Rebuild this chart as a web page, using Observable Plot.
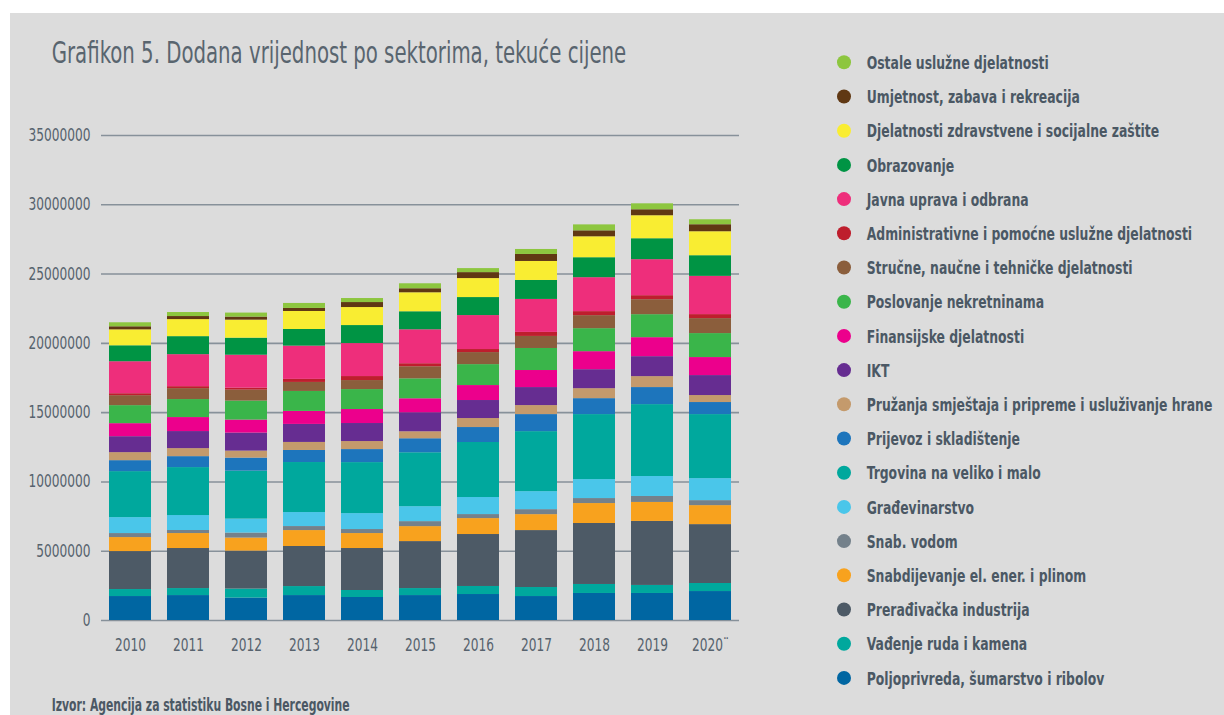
<!DOCTYPE html>
<html>
<head>
<meta charset="utf-8">
<script src="https://cdn.jsdelivr.net/npm/d3@7"></script>
<script src="https://cdn.jsdelivr.net/npm/@observablehq/plot@0.6"></script>
<style>
  html, body { margin: 0; padding: 0; background: #ffffff; }
  #wrap { position: relative; width: 1224px; height: 715px; overflow: hidden; }
  #bg { position: absolute; left: 10px; top: 13px; right: 0; bottom: 0; background: #dcdcdc; }
  #chart { position: absolute; left: 0; top: 0; }
  #overlay { position: absolute; left: 0; top: 0; pointer-events: none; }
</style>
</head>
<body>
<div id="wrap">
  <div id="bg"></div>
  <div id="chart"></div>
  <svg id="overlay" width="1224" height="715"></svg>
</div>
<script>
// ---- data ----
const years = ["2010","2011","2012","2013","2014","2015","2016","2017","2018","2019","2020"];

// sectors from bottom of the stack to top
const sectors = [
  "Poljoprivreda, šumarstvo i ribolov",
  "Vađenje ruda i kamena",
  "Prerađivačka industrija",
  "Snabdijevanje el. ener. i plinom",
  "Snab. vodom",
  "Građevinarstvo",
  "Trgovina na veliko i malo",
  "Prijevoz i skladištenje",
  "Pružanja smještaja i pripreme i usluživanje hrane",
  "IKT",
  "Finansijske djelatnosti",
  "Poslovanje nekretninama",
  "Stručne, naučne i tehničke djelatnosti",
  "Administrativne i pomoćne uslužne djelatnosti",
  "Javna uprava i odbrana",
  "Obrazovanje",
  "Djelatnosti zdravstvene i socijalne zaštite",
  "Umjetnost, zabava i rekreacija",
  "Ostale uslužne djelatnosti"
];

const sectorColors = [
  "#0066a2", "#00a89d", "#4d5a66", "#f8a21e", "#74818b", "#4ac6ea",
  "#00a89d", "#1d75bc", "#c49a6c", "#662d91", "#ec008c", "#3ab54a",
  "#8b5e3c", "#be1e2d", "#ee2e7b", "#009444", "#f9ed32", "#603813", "#8dc63f"
];

const poljoprivreda   = [1730000,1800000,1620000,1800000,1660000,1800000,1875000,1730000,1950000,1950000,2090000];
const vadjenje        = [ 505000, 505000, 650000, 650000, 505000, 505000, 580000, 650000, 650000, 580000, 580000];
const preradjivacka   = [2740000,2890000,2740000,2890000,3030000,3390000,3750000,4110000,4400000,4620000,4250000];
const elEnergija      = [1010000,1080000, 940000,1150000,1080000,1080000,1150000,1150000,1440000,1370000,1370000];
const voda            = [ 290000, 220000, 360000, 290000, 290000, 360000, 290000, 360000, 360000, 430000, 360000];
const gradjevinarstvo = [1150000,1080000,1010000,1010000,1150000,1080000,1230000,1300000,1370000,1440000,1590000];
const trgovina        = [3320000,3460000,3460000,3610000,3680000,3890000,3970000,4330000,4690000,5190000,4620000];
const prijevoz        = [ 790000, 790000, 940000, 870000, 940000,1010000,1080000,1230000,1150000,1230000, 870000];
const smjestaj        = [ 580000, 580000, 505000, 580000, 580000, 505000, 650000, 650000, 720000, 790000, 505000];
const ikt             = [1150000,1230000,1300000,1300000,1300000,1370000,1300000,1300000,1370000,1440000,1440000];
const finansijske     = [ 940000,1010000, 940000, 940000,1010000,1010000,1080000,1230000,1300000,1370000,1300000];
const nekretnine      = [1300000,1300000,1370000,1440000,1440000,1440000,1510000,1590000,1660000,1660000,1730000];
const strucne         = [ 720000, 790000, 790000, 650000, 650000, 870000, 870000, 870000, 940000,1080000,1080000];
const administrativne = [ 140000, 140000, 140000, 220000, 290000, 220000, 220000, 290000, 290000, 290000, 290000];
const javnaUprava     = [2310000,2310000,2380000,2400000,2380000,2450000,2450000,2380000,2450000,2600000,2760000];
const obrazovanje     = [1150000,1300000,1230000,1200000,1300000,1300000,1300000,1370000,1440000,1510000,1490000];
const zdravstvo       = [1150000,1230000,1300000,1300000,1300000,1370000,1370000,1370000,1510000,1660000,1730000];
const umjetnost       = [ 220000, 220000, 220000, 220000, 360000, 290000, 430000, 505000, 430000, 430000, 505000];
const ostale          = [ 290000, 290000, 290000, 360000, 290000, 360000, 290000, 360000, 430000, 430000, 360000];

const seriesValues = [poljoprivreda, vadjenje, preradjivacka, elEnergija, voda, gradjevinarstvo,
  trgovina, prijevoz, smjestaj, ikt, finansijske, nekretnine, strucne, administrativne,
  javnaUprava, obrazovanje, zdravstvo, umjetnost, ostale];

const yTicks = [0, 5000000, 10000000, 15000000, 20000000, 25000000, 30000000, 35000000];

const titleText = "Grafikon 5. Dodana vrijednost po sektorima, tekuće cijene";
const sourceText = "Izvor: Agencija za statistiku Bosne i Hercegovine";

// ---- build table ----
const table = sectors.flatMap((s, i) => years.map((y, j) => ({year: y, sector: s, value: seriesValues[i][j]})));

const FONT = "'Liberation Sans Narrow', 'DejaVu Sans Condensed', 'Arial Narrow', sans-serif";
const TEXT = "#56626d";

const chart = Plot.plot({
  width: 760,
  height: 715,
  marginTop: 135,
  marginBottom: 95,
  marginLeft: 101,
  marginRight: 21,
  style: {fontFamily: FONT, fontSize: "17px", color: TEXT, background: "transparent", overflow: "visible"},
  x: {domain: years, paddingInner: 0.276, paddingOuter: 0.138, label: null, tickSize: 0, tickPadding: 18,
      tickFormat: d => d === "2020" ? "2020¨" : d},
  y: {domain: [0, 35000000], ticks: yTicks, label: null, tickSize: 0, tickPadding: 11,
      tickFormat: d => String(d)},
  color: {domain: sectors, range: sectorColors},
  marks: [
    Plot.ruleY(yTicks, {stroke: "#87919a", strokeWidth: 1.6}),
    Plot.barY(table, {x: "year", y: "value", fill: "sector", order: sectors})
  ]
});
document.getElementById("chart").appendChild(chart);

function fitText(sel, target) {
  const w = sel.node().getComputedTextLength();
  return w > 0 ? target / w : 1;
}

// condense the axis tick labels to the reference's narrow type
const yLabels = d3.select(chart).selectAll('g[aria-label="y-axis tick label"] text');
const xLabels = d3.select(chart).selectAll('g[aria-label="x-axis tick label"] text');
const widest = yLabels.filter(function() { return this.textContent === "35000000"; });
const axisSx = widest.size() ? fitText(widest, 62) : 1;
[yLabels, xLabels].forEach(sel => sel.each(function() {
  const t = this.getAttribute("transform") || "";
  this.setAttribute("transform", `${t} scale(${axisSx},1)`);
}));

// ---- overlay: title, legend, source ----
const ov = d3.select("#overlay");

const title = ov.append("text")
  .attr("font-family", FONT).attr("font-size", 30).attr("fill", "#59656f")
  .text(titleText);
const tsx = fitText(title, 575);
title.attr("transform", `translate(51.7,63.3) scale(${tsx},1)`);

const legendOrder = sectors.map((s, i) => ({name: s, color: sectorColors[i]})).reverse();
const lg = ov.append("g");
const rows = lg.selectAll("g").data(legendOrder).join("g")
  .attr("transform", (d, i) => `translate(0,${62.3 + i * 34.2})`);
rows.append("circle").attr("cx", 844).attr("cy", 0).attr("r", 7).attr("fill", d => d.color);
const labels = rows.append("text")
  .attr("font-family", FONT).attr("font-weight", "bold").attr("font-size", 18.5).attr("fill", "#4b5864")
  .text(d => d.name);
const longest = labels.filter(d => d.name.startsWith("Pružanja"));
const lsx = fitText(longest, 346);
labels.attr("transform", `translate(866.7,6.6) scale(${lsx},1)`);

const src = ov.append("text")
  .attr("font-family", FONT).attr("font-weight", "bold").attr("font-size", 18).attr("fill", "#4b5864")
  .text(sourceText);
const ssx = fitText(src, 298);
src.attr("transform", `translate(51.7,710.5) scale(${ssx},1)`);
</script>
</body>
</html>
